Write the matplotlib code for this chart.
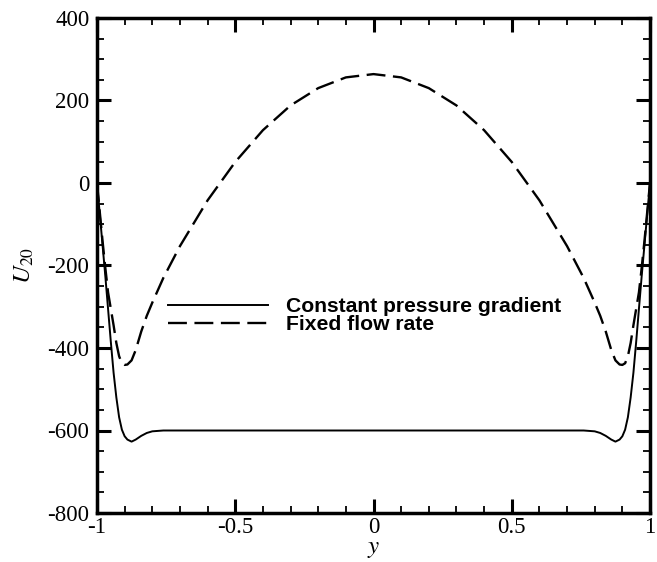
import numpy as np
import matplotlib
matplotlib.use("Agg")
import matplotlib.pyplot as plt
from matplotlib.ticker import MultipleLocator

matplotlib.rcParams["mathtext.fontset"] = "stix"

# Half profile (left side)
y_left = [-1.00, -0.99, -0.98, -0.97, -0.96, -0.95, -0.94, -0.93, -0.92, -0.91,
          -0.90, -0.89, -0.875, -0.86, -0.84, -0.82, -0.80, -0.76, -0.70, -0.60,
          -0.50, -0.40, -0.30, -0.20, -0.10, 0.00]
u_const = [0, -75, -150, -225, -305, -385, -460, -520, -568, -598,
           -614, -622, -627, -622, -613, -606, -602, -600, -600, -600,
           -600, -600, -600, -600, -600, -600]
u_fixed = [0, -70, -140, -205, -265, -305, -345, -388, -420, -437,
           -441, -440, -430, -405, -360, -322, -290, -230, -153, -42,
           51, 128, 188, 230, 256, 264]

y_full = np.concatenate([y_left, -np.array(y_left[-2::-1])])
uc_full = np.concatenate([u_const, u_const[-2::-1]])
uf_full = np.concatenate([u_fixed, u_fixed[-2::-1]])

labels = ["Constant pressure gradient", "Fixed flow rate"]
xtick_vals = [-1, -0.5, 0, 0.5, 1]
xtick_labels = ["-1", "-0.5", "0", "0.5", "1"]
ytick_vals = [-800, -600, -400, -200, 0, 200, 400]
ytick_labels = ["-800", "-600", "-400", "-200", "0", "200", "400"]

fig = plt.figure(figsize=(6.57, 5.62), dpi=100)
ax = fig.add_axes([97/657, 1-513/562, (650-97)/657, (513-18)/562])

ax.plot(y_full, uc_full, color="black", lw=1.4, label=labels[0])
ax.plot(y_full, uf_full, color="black", lw=1.7, linestyle=(0, (8, 3.2)), label=labels[1])

ax.set_xlim(-1, 1)
ax.set_ylim(-800, 400)
ax.xaxis.set_minor_locator(MultipleLocator(0.1))
ax.yaxis.set_minor_locator(MultipleLocator(50))
ax.set_xticks(xtick_vals)
ax.set_xticklabels(xtick_labels)
ax.set_yticks(ytick_vals)
ax.set_yticklabels(ytick_labels)

for s in ax.spines.values():
    s.set_linewidth(2.5)
ax.tick_params(which="both", direction="in", top=True, right=True)
ax.tick_params(which="major", length=10, width=2.2, labelsize=16.5)
ax.tick_params(axis="y", which="major", pad=5.5)
ax.tick_params(axis="x", which="major", pad=3)
ax.tick_params(which="minor", length=5, width=1.3)
for lab in ax.get_xticklabels() + ax.get_yticklabels():
    lab.set_fontfamily("Liberation Serif")

ax.set_xlabel("$y$", fontsize=18, labelpad=-1.5)
ax.set_ylabel(r"$U_{20}$", fontsize=18, labelpad=8)

leg = ax.legend(loc="upper left", bbox_to_anchor=(0.129, 0.436), frameon=False,
                handlelength=4.7, handletextpad=0.85, labelspacing=-0.06,
                borderaxespad=0, borderpad=0,
                prop={"family": "Liberation Sans", "weight": "bold", "size": 15.2})

fig.savefig("out.png", dpi=100)
